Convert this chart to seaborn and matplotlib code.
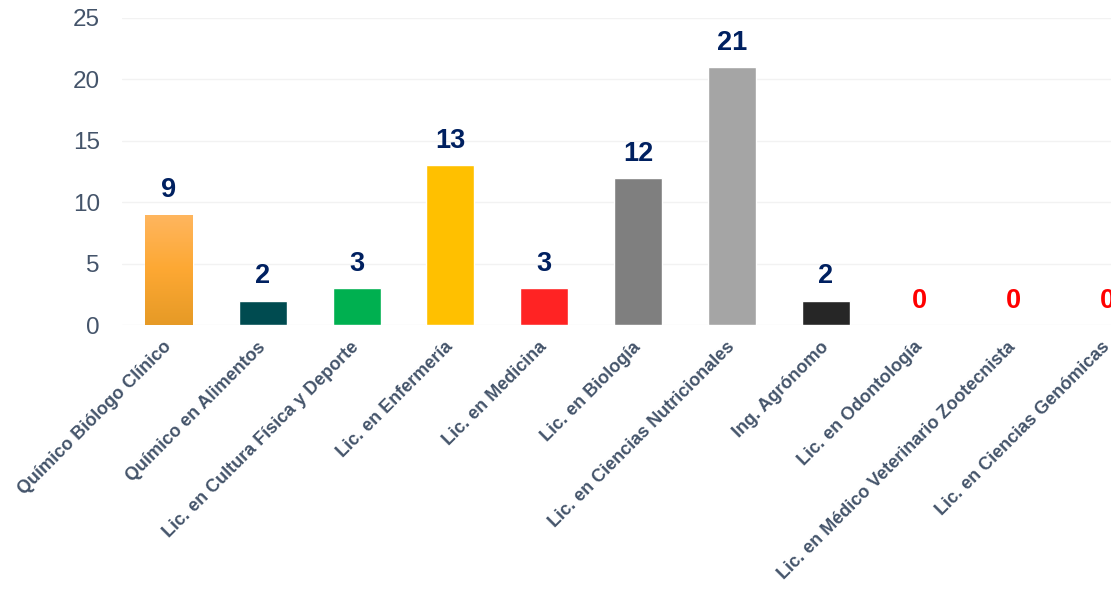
import matplotlib

matplotlib.use("Agg")

import matplotlib.pyplot as plt
import numpy as np
import pandas as pd
import seaborn as sns
from matplotlib.colors import LinearSegmentedColormap

carreras = [
    "Químico Biólogo Clínico",
    "Químico en Alimentos",
    "Lic. en Cultura Física y Deporte",
    "Lic. en Enfermería",
    "Lic. en Medicina",
    "Lic. en Biología",
    "Lic. en Ciencias Nutricionales",
    "Ing. Agrónomo",
    "Lic. en Odontología",
    "Lic. en Médico Veterinario Zootecnista",
    "Lic. en Ciencias Genómicas",
]
alumnos = [9, 2, 3, 13, 3, 12, 21, 2, 0, 0, 0]
colores = [
    "#FDA833", "#004B50", "#00B050", "#FFC000", "#FF2323", "#7F7F7F",
    "#A5A5A5", "#262626", "#FFFFFF", "#FFFFFF", "#FFFFFF",
]
y_ticks = [0, 5, 10, 15, 20, 25]

TEXT_GRAY = "#44546A"
NAVY = "#002060"

sns.set_style("white")
plt.rcParams["font.family"] = ["Liberation Sans", "DejaVu Sans"]

df = pd.DataFrame({"Carrera": carreras, "Alumnos": alumnos})

fig = plt.figure(figsize=(11.11, 5.9), dpi=100)
ax = fig.add_axes([122 / 1111, 0.449, 1 - 122 / 1111, 0.5205])

sns.barplot(
    data=df,
    x="Carrera",
    y="Alumnos",
    hue="Carrera",
    palette=colores,
    legend=False,
    width=0.51,
    saturation=1,
    ax=ax,
)

# gradient fill for the first bar
first = ax.patches[0]
grad = LinearSegmentedColormap.from_list("naranja", ["#E69A26", "#FDA833", "#FFB65F"])
img = ax.imshow(
    np.linspace(0, 1, 256).reshape(-1, 1),
    cmap=grad,
    origin="lower",
    aspect="auto",
    extent=[first.get_x(), first.get_x() + first.get_width(), 0, first.get_height()],
    zorder=first.get_zorder() + 0.1,
)
img.set_clip_path(first)

for i, value in enumerate(alumnos):
    ax.annotate(
        str(value),
        (i, value),
        xytext=(0, 8),
        textcoords="offset points",
        ha="center",
        va="bottom",
        fontsize=19.5,
        fontweight="bold",
        color="#FF0000" if value == 0 else NAVY,
        annotation_clip=False,
    )

ax.set_xlim(-0.5, 10.04)
ax.set_ylim(0, 25)
ax.set_yticks(y_ticks)
ax.yaxis.grid(True, color="#F2F2F2", linewidth=1)
ax.set_axisbelow(True)
sns.despine(ax=ax, left=True, bottom=True)
ax.set_xlabel("")
ax.set_ylabel("")
ax.tick_params(axis="y", length=0, pad=16, labelsize=17.5, labelcolor=TEXT_GRAY)
ax.tick_params(axis="x", length=0, pad=14)
ax.set_xticks(range(len(carreras)))
ax.set_xticklabels(
    carreras,
    rotation=45,
    ha="right",
    va="center",
    rotation_mode="anchor",
    fontsize=13,
    fontweight="bold",
    color=TEXT_GRAY,
)

fig.savefig("out.png", dpi=100)
plt.close(fig)
